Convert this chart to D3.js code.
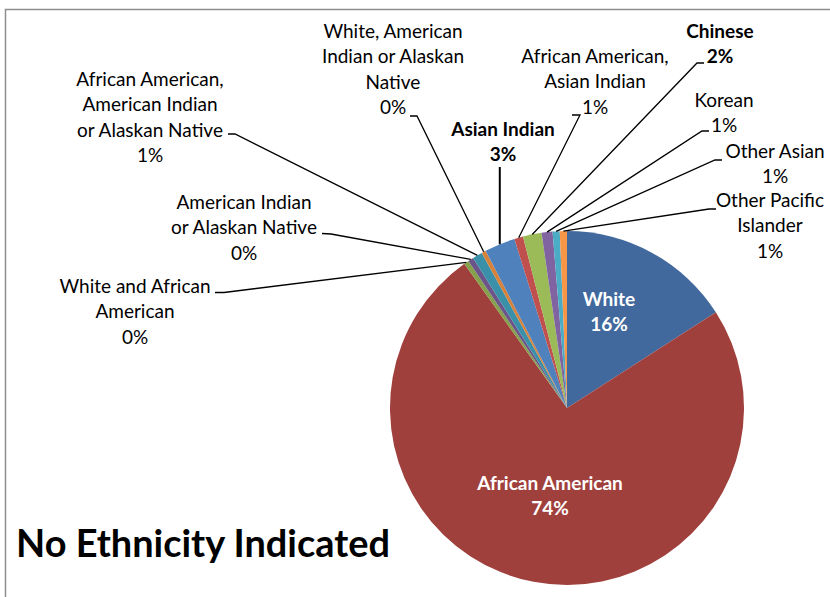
<!DOCTYPE html>
<html>
<head>
<meta charset="utf-8">
<script src="https://cdn.jsdelivr.net/npm/d3@7"></script>
<style>
  html, body { margin: 0; padding: 0; background: #fff; }
  svg { display: block; }
  text { font-family: Lato, "Open Sans", sans-serif; }
</style>
</head>
<body>
<svg id="chart" width="830" height="597"></svg>
<script>
// Respondent ethnicity breakdown (percent of respondents)
const categories = [
  "White",
  "African American",
  "White and African American",
  "American Indian or Alaskan Native",
  "African American, American Indian or Alaskan Native",
  "White, American Indian or Alaskan Native",
  "Asian Indian",
  "African American, Asian Indian",
  "Chinese",
  "Korean",
  "Other Asian",
  "Other Pacific Islander"
];
const shares = [15.9, 74.25, 0.45, 0.5, 0.9, 0.4, 2.8, 0.8, 1.7, 1.0, 0.65, 0.65];
const sliceColors = [
  "#41699d", "#a0403d", "#85a14b", "#6b5489", "#3a90a8", "#d7823a",
  "#4f81bd", "#c0504d", "#9bbb59", "#8064a2", "#4bacc6", "#f79646"
];
// How each category name wraps in its label
const labelLines = [
  ["White"],
  ["African American"],
  ["White and African", "American"],
  ["American Indian", "or Alaskan Native"],
  ["African American,", "American Indian", "or Alaskan Native"],
  ["White, American", "Indian or Alaskan", "Native"],
  ["Asian Indian"],
  ["African American,", "Asian Indian"],
  ["Chinese"],
  ["Korean"],
  ["Other Asian"],
  ["Other Pacific", "Islander"]
];
const chartTitle = "No Ethnicity Indicated";

// ---- layout ----
const W = 830, H = 597;
const cx = 567, cy = 408, R = 177;
const lineH = 25.3;

// label placement: text centre x, first baseline, bold, inside slice,
// and leader path (tick start, tick end) ending on the slice edge
const labelPos = [
  { x: 609, y: 306, bold: true, inside: true },
  { x: 550, y: 490, bold: true, inside: true },
  { x: 135, y: 293, lead: [[215, 292.5], [224, 292.5]] },
  { x: 244, y: 209, lead: [[322, 233.5], [331, 234]] },
  { x: 150, y: 86,  lead: [[228, 134], [235, 134]] },
  { x: 393, y: 38,  lead: [[410, 116], [417, 116]] },
  { x: 503, y: 136, bold: true, vertical: 167 },
  { x: 595, y: 63,  lead: [[572, 115], [580, 115]] },
  { x: 720, y: 38,  bold: true, lead: [[704, 63], [697, 63]] },
  { x: 724, y: 107, lead: [[709, 131], [702, 131]] },
  { x: 775, y: 158, lead: [[722, 160], [715, 160]] },
  { x: 770, y: 207, lead: [[716, 209], [709, 209]] }
];

const svg = d3.select("#chart");

// frame
svg.append("path")
  .attr("d", `M5.5,${H} L5.5,9.5 L${W},9.5`)
  .attr("fill", "none")
  .attr("stroke", "#8e8e8e")
  .attr("stroke-width", 1.5);

const data = categories.map((c, i) => ({ name: c, value: shares[i], i }));
const total = d3.sum(shares);
const pct = d3.format(".0%");

const pie = d3.pie().sort(null).value(d => d.value);
const arcs = pie(data);
const arc = d3.arc().innerRadius(0).outerRadius(R);

const g = svg.append("g").attr("transform", `translate(${cx},${cy})`);
g.selectAll("path.slice")
  .data(arcs)
  .join("path")
  .attr("class", "slice")
  .attr("d", arc)
  .attr("fill", d => sliceColors[d.data.i]);

// leader lines
const edgePoint = a => {
  const m = (a.startAngle + a.endAngle) / 2;
  return [cx + R * Math.sin(m), cy - R * Math.cos(m)];
};
const leaders = svg.append("g")
  .attr("fill", "none")
  .attr("stroke", "#000")
  .attr("stroke-width", 1.3);
arcs.forEach(a => {
  const p = labelPos[a.data.i];
  const e = edgePoint(a);
  if (p.vertical !== undefined) {
    leaders.append("path")
      .attr("d", `M${e[0]},${p.vertical} L${e[0]},${e[1]}`)
      .attr("stroke-width", 2);
  } else if (p.lead) {
    const pts = [...p.lead, e];
    leaders.append("path").attr("d", d3.line()(pts));
  }
});

// labels
const labels = svg.append("g");
arcs.forEach(a => {
  const p = labelPos[a.data.i];
  const lines = [...labelLines[a.data.i], pct(a.data.value / total)];
  const t = labels.append("text")
    .attr("text-anchor", "middle")
    .attr("font-size", 19)
    .attr("font-weight", p.bold ? 700 : 400)
    .attr("fill", p.inside ? "#fff" : "#000");
  lines.forEach((s, k) => {
    t.append("tspan")
      .attr("x", p.x)
      .attr("y", p.y + k * lineH)
      .text(s);
  });
});

// title
svg.append("text")
  .attr("x", 16)
  .attr("y", 557)
  .attr("font-size", 38)
  .attr("font-weight", 700)
  .attr("fill", "#000")
  .attr("textLength", 374)
  .attr("lengthAdjust", "spacingAndGlyphs")
  .text(chartTitle);
</script>
</body>
</html>
